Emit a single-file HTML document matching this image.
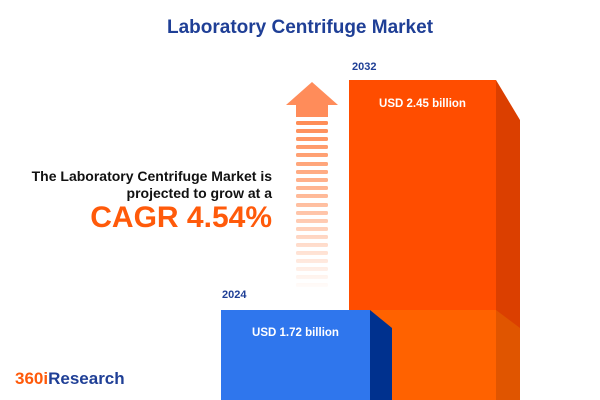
<!DOCTYPE html>
<html><head><style>
body{margin:0;width:600px;height:400px;background:#fff;position:relative;overflow:hidden;font-family:"Liberation Sans",sans-serif}
.t{position:absolute;white-space:nowrap;font-weight:bold}
</style></head><body>
<svg width="600" height="400" style="position:absolute;left:0;top:0">
<defs><linearGradient id="g" gradientUnits="userSpaceOnUse" x1="0" y1="121" x2="0" y2="292"><stop offset="0" stop-color="#ff8c55"/><stop offset="0.5" stop-color="#ffc0a2"/><stop offset="1" stop-color="#ffffff"/></linearGradient></defs>
<polygon points="286,105 312,82 338,105" fill="#ff8c5a"/>
<rect x="296" y="104" width="32" height="13" fill="#ff8c5a"/>
<g fill="url(#g)">
<rect x="296" y="121" width="32" height="4" rx="1.5"/><rect x="296" y="129" width="32" height="4" rx="1.5"/><rect x="296" y="137" width="32" height="4" rx="1.5"/><rect x="296" y="145" width="32" height="4" rx="1.5"/><rect x="296" y="153" width="32" height="4" rx="1.5"/><rect x="296" y="162" width="32" height="4" rx="1.5"/><rect x="296" y="170" width="32" height="4" rx="1.5"/><rect x="296" y="178" width="32" height="4" rx="1.5"/><rect x="296" y="186" width="32" height="4" rx="1.5"/><rect x="296" y="194" width="32" height="4" rx="1.5"/><rect x="296" y="203" width="32" height="4" rx="1.5"/><rect x="296" y="211" width="32" height="4" rx="1.5"/><rect x="296" y="219" width="32" height="4" rx="1.5"/><rect x="296" y="227" width="32" height="4" rx="1.5"/><rect x="296" y="235" width="32" height="4" rx="1.5"/><rect x="296" y="243" width="32" height="4" rx="1.5"/><rect x="296" y="251" width="32" height="4" rx="1.5"/><rect x="296" y="259" width="32" height="4" rx="1.5"/><rect x="296" y="267" width="32" height="4" rx="1.5"/><rect x="296" y="275" width="32" height="4" rx="1.5"/><rect x="296" y="283" width="32" height="4" rx="1.5"/>
</g>
<rect x="349" y="80" width="147" height="320" fill="#ff4d00"/>
<polygon points="496,80 520,120 520,400 496,400" fill="#db3f00"/>
<rect x="370" y="310" width="126" height="90" fill="#ff6200"/>
<polygon points="496,310 520,328 520,400 496,400" fill="#e05500"/>
<rect x="221" y="310" width="149" height="90" fill="#2f76ed"/>
<polygon points="370,310 392,328 392,400 370,400" fill="#00318e"/>
</svg>
<div class="t" style="left:0;width:600px;text-align:center;top:17px;font-size:19px;color:#1f3f96">Laboratory Centrifuge Market</div>
<div class="t" style="left:352px;top:61px;font-size:11px;color:#1f3f96">2032</div>
<div class="t" style="left:222px;top:289px;font-size:11px;color:#1f3f96">2024</div>
<div class="t" style="left:349px;width:147px;text-align:center;top:98px;font-size:11.5px;color:#fff">USD 2.45 billion</div>
<div class="t" style="left:221px;width:149px;text-align:center;top:327px;font-size:11.5px;color:#fff">USD 1.72 billion</div>
<div class="t" style="right:328px;top:168px;font-size:14px;color:#111;text-align:right;line-height:17px">The Laboratory Centrifuge Market is<br>projected to grow at a</div>
<div class="t" style="right:328px;top:201px;font-size:30px;color:#ff5a0a">CAGR 4.54%</div>
<div class="t" style="left:15px;top:369px;font-size:17px;color:#1f3f96"><span style="color:#ff5a0a">360i</span>Research</div>
</body></html>
